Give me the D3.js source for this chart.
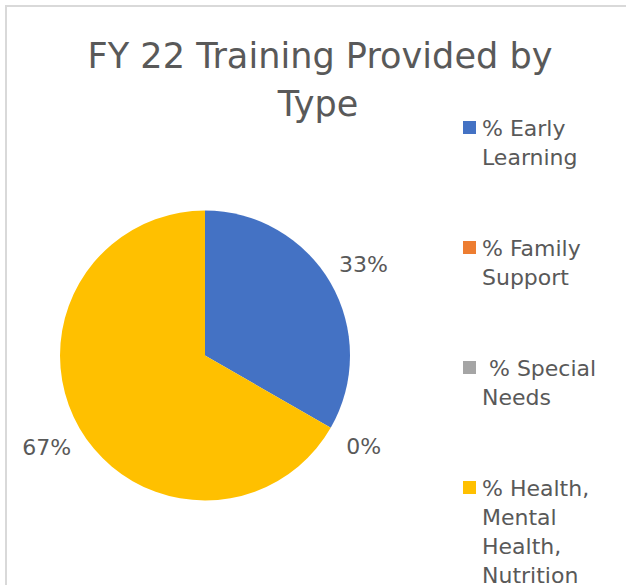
<!DOCTYPE html>
<html>
<head>
<meta charset="utf-8">
<script src="https://cdn.jsdelivr.net/npm/d3@7"></script>
<style>
  body { margin: 0; background: #fff; }
  text { font-family: "Century Gothic", "DejaVu Sans", sans-serif; fill: #595959; }
</style>
</head>
<body>
<div id="chart"></div>
<script>
// data
var categories = ["% Early Learning", "% Family Support", " % Special Needs", "% Health, Mental Health, Nutrition"];
var values = [33.3, 0, 0, 66.7];
var colors = ["#4472c4", "#ed7d31", "#a5a5a5", "#ffc000"];
var legendLines = [["% Early", "Learning"], ["% Family", "Support"], [" % Special", "Needs"], ["% Health,", "Mental", "Health,", "Nutrition"]];
var titleLines = ["FY 22 Training Provided by", "Type"];

var width = 626, height = 585;

var svg = d3.select("#chart").append("svg")
            .attr("width", width)
            .attr("height", height);

// chart frame (only left and top edges are visible in the crop)
svg.append("rect")
   .attr("x", 6).attr("y", 6)
   .attr("width", 660).attr("height", 660)
   .attr("fill", "none")
   .attr("stroke", "#d9d9d9")
   .attr("stroke-width", 2);

// title
svg.append("text").attr("x", 320).attr("y", 68)
   .attr("text-anchor", "middle").style("font-size", "35px")
   .attr("textLength", 465).attr("lengthAdjust", "spacingAndGlyphs")
   .text(titleLines[0]);
svg.append("text").attr("x", 318).attr("y", 116)
   .attr("text-anchor", "middle").style("font-size", "35px")
   .text(titleLines[1]);

var data = categories.map(function(c, i) { return {name: c, value: values[i], color: colors[i]}; });

var pie = d3.pie().sort(null).value(function(d) { return d.value; });
var arcs = pie(data);
var r = 145;
var arc = d3.arc().innerRadius(0).outerRadius(r);
var labelArc = d3.arc().innerRadius(183).outerRadius(183);
var pct = d3.format(".0%");

var g = svg.append("g").attr("transform", "translate(205,355.5)");

g.selectAll("path")
 .data(arcs)
 .enter()
 .append("path")
 .attr("d", arc)
 .attr("fill", function(d) { return d.data.color; });

// labels: zero slices share a spot, only one shown there (as in the original)
var shown = arcs.filter(function(d, i) { return i !== 2; });
g.selectAll("text.lbl")
 .data(shown)
 .enter()
 .append("text")
 .attr("class", "lbl")
 .attr("transform", function(d) {
   var c = labelArc.centroid(d);
   return "translate(" + c[0] + "," + c[1] + ")";
 })
 .attr("text-anchor", "middle")
 .attr("dy", "0.35em")
 .style("font-size", "22px")
 .text(function(d) { return pct(d.value / 100); });

// legend
var legend = svg.append("g").attr("transform", "translate(463,0)");
var items = legend.selectAll("g")
                  .data(data)
                  .enter()
                  .append("g")
                  .attr("transform", function(d, i) { return "translate(0," + (121 + i * 120) + ")"; });

items.append("rect")
     .attr("width", 13).attr("height", 13)
     .attr("fill", function(d) { return d.color; });

items.append("text")
     .attr("x", 19)
     .attr("y", 15)
     .style("font-size", "22px")
     .style("white-space", "pre")
     .selectAll("tspan")
     .data(function(d, i) { return legendLines[i]; })
     .enter()
     .append("tspan")
     .attr("x", 19)
     .attr("dy", function(d, i) { return i === 0 ? 0 : 29; })
     .text(function(d) { return d; });
</script>
</body>
</html>
